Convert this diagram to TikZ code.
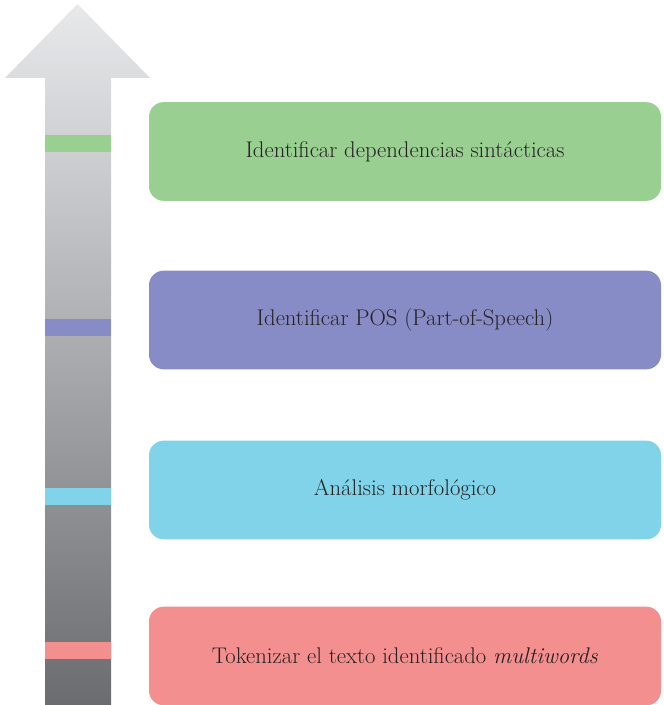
\documentclass[tikz,border=0pt]{standalone}
\definecolor{levelgreen}{RGB}{153,208,146}
\definecolor{levelpurple}{RGB}{136,140,198}
\definecolor{levelcyan}{RGB}{129,211,233}
\definecolor{levelred}{RGB}{244,143,143}
\definecolor{arrowtop}{RGB}{232,233,235}
\definecolor{arrowbottom}{RGB}{106,108,112}
\definecolor{labeltext}{RGB}{38,34,35}
\tikzset{level/.style={rectangle, rounded corners=11pt, minimum width=384pt,
    minimum height=74pt, inner sep=0pt, text=labeltext, font=\fontsize{17}{20}\selectfont}}

\begin{document}
\begin{tikzpicture}[x=0.75pt,y=-0.75pt]
        \useasboundingbox (0,0) rectangle (663,705);

        % the rising arrow
        \shade[top color=arrowtop, bottom color=arrowbottom]
            (45,705) -- (45,78) -- (5,78) -- (77.5,4) -- (150,78)
            -- (111,78) -- (111,705) -- cycle;

        % marks on the shaft
        \fill[levelgreen]  (45,135) rectangle (111,152);
        \fill[levelpurple] (45,319) rectangle (111,336);
        \fill[levelcyan]   (45,488) rectangle (111,505);
        \fill[levelred]    (45,642) rectangle (111,659);

        \node[level, fill=levelgreen]  (deps)  at (405,151.5) {Identificar dependencias sintácticas};
        \node[level, fill=levelpurple] (pos)   at (405,320)   {Identificar POS (Part-of-Speech)};
        \node[level, fill=levelcyan]   (morph) at (405,490)   {Análisis morfológico};
        \node[level, fill=levelred]    (token) at (405,656)   {Tokenizar el texto identificado \textit{multiwords}};
    \end{tikzpicture}
\end{document}
